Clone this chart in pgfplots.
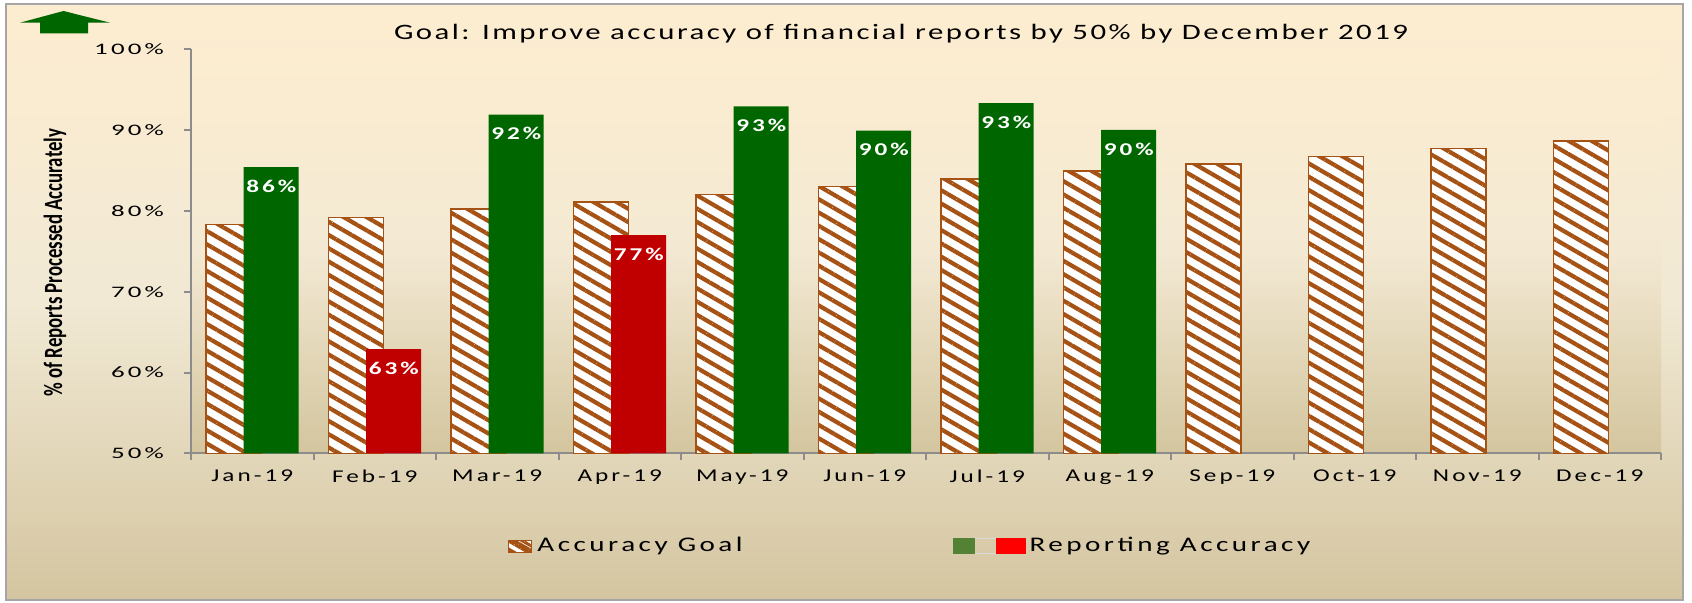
\documentclass[border=0pt]{standalone}
\usepackage{pgfplots}
\pgfplotsset{compat=1.18}
\usepackage{fontspec}
\setmainfont{Carlito}
\usetikzlibrary{patterns.meta}
\newfontfamily\cf[LetterSpace=12]{Carlito}
\newfontfamily\cft[LetterSpace=8]{Carlito}
\newcommand\W[1]{\scalebox{1.4}[1]{\cf #1}}
\newcommand\Ws[2]{\scalebox{#1}[1]{\cf #2}}
\definecolor{hatch}{RGB}{166,82,20}
\definecolor{bargreen}{RGB}{0,102,0}
\definecolor{barred}{RGB}{192,0,0}
\definecolor{leggreen}{RGB}{84,130,53}
\definecolor{legred}{RGB}{255,0,0}
\definecolor{axisgray}{RGB}{140,140,140}
\definecolor{bordergray}{RGB}{166,166,166}
\definecolor{bgtop}{RGB}{253,237,208}
\definecolor{bgmid}{RGB}{241,233,212}
\definecolor{bgbot}{RGB}{212,197,160}
\definecolor{pbtop}{RGB}{252,237,208}
\definecolor{pbmid}{RGB}{243,233,211}
\definecolor{pbbot}{RGB}{211,197,158}
\begin{document}
\begin{tikzpicture}
\path[use as bounding box] (0,0) rectangle (846pt,301.5pt);
\shade[top color=bgtop, bottom color=bgbot, middle color=bgmid] (3pt,1.5pt) rectangle (841.5pt,299.5pt);
\draw[bordergray, line width=1pt] (3pt,1.5pt) rectangle (841.5pt,299.5pt);
\fill[bargreen] (10pt,290.15pt) -- (31.75pt,296pt) -- (55pt,290.15pt) -- (44pt,290.15pt) -- (44pt,284.85pt) -- (20pt,284.85pt) -- (20pt,290.15pt) -- cycle;
\node[anchor=base, font=\fontsize{11}{13}\selectfont] at (450.5pt,281.5pt) {\scalebox{1.4}[1]{\cft Goal: Improve accuracy of financial reports by 50\% by December 2019}};
\begin{axis}[
  at={(95.5pt,74.75pt)}, anchor=south west,
  scale only axis, width=735pt, height=202.25pt,
  xmin=0, xmax=12, ymin=50, ymax=100,
  enlargelimits=false,
  axis x line*=bottom, axis y line*=left,
  axis line style={draw=axisgray, line width=1pt},
  tick style={draw=axisgray, line width=1pt},
  tick align=outside, major tick length=3.5pt,
  ytick={50,60,70,80,90,100},
  yticklabels={\Ws{1.68}{50\%},\Ws{1.68}{60\%},\Ws{1.68}{70\%},\Ws{1.68}{80\%},\Ws{1.68}{90\%},\Ws{1.68}{100\%}},
  yticklabel style={font=\fontsize{8}{9}\selectfont, xshift=-6.5pt},
  xtick={0,1,...,12},
  xticklabels={\W{Jan-19},\W{Feb-19},\W{Mar-19},\W{Apr-19},\W{May-19},\W{Jun-19},\W{Jul-19},\W{Aug-19},\W{Sep-19},\W{Oct-19},\W{Nov-19},\W{Dec-19}},
  x tick label as interval,
  xticklabel style={font=\fontsize{9}{10}\selectfont, yshift=-1pt},
  ylabel={\scalebox{1}[1.4]{\bfseries\% of Reports Processed Accurately}},
  ylabel style={at={(axis description cs:-0.0925,0.472)}, anchor=center, font=\fontsize{9.4}{11}\selectfont},
  axis background/.style={top color=pbtop, bottom color=pbbot, middle color=pbmid},
  ybar, bar width=27.5pt,
  legend columns=2,
  legend style={at={(axis description cs:0.215,-0.229)}, anchor=west, draw=none, fill=none,
    font=\fontsize{10.4}{12}\selectfont, inner sep=0pt,
    /tikz/every even column/.append style={column sep=103pt}},
]
\addplot[bar shift=0pt, fill=white, draw=hatch, line width=0.75pt,
  postaction={pattern={Lines[angle=-30,distance=5.75pt,line width=2.1pt]}, pattern color=hatch},
  legend image code/.code={\draw[hatch, line width=0.5pt, fill=white, postaction={pattern={Lines[angle=-30,distance=3.5pt,line width=1.5pt]}, pattern color=hatch}] (0pt,-3pt) rectangle (11.5pt,3pt);}]
  coordinates {(0.345,78.3) (1.345,79.2) (2.345,80.2) (3.345,81.1) (4.345,82.0) (5.345,83.0) (6.345,83.9) (7.345,84.9) (8.345,85.8) (9.345,86.7) (10.345,87.7) (11.345,88.6)};
\addlegendentry{\W{Accuracy Goal}}
\addplot[bar shift=0pt, fill=bargreen, draw=none,
  point meta=explicit symbolic, nodes near coords={\W{\bfseries\pgfplotspointmeta}},
  every node near coord/.append style={anchor=center, yshift=-9.5pt, text=white, font=\fontsize{9}{10}\selectfont},
  legend image code/.code={\fill[leggreen] (0pt,-4pt) rectangle (11pt,4pt); \draw[gray!30, line width=0.6pt] (11pt,3.7pt)--(21.5pt,3.7pt) (11pt,-3.7pt)--(21.5pt,-3.7pt); \fill[legred] (21.5pt,-4pt) rectangle (36.5pt,4pt);}]
  coordinates {(0.655,85.4) [86\%] (2.655,91.9) [92\%] (4.655,92.9) [93\%] (5.655,89.9) [90\%] (6.655,93.3) [93\%] (7.655,90.0) [90\%]};
\addlegendentry{\W{Reporting Accuracy}}
\addplot[bar shift=0pt, fill=barred, draw=none, forget plot,
  point meta=explicit symbolic, nodes near coords={\W{\bfseries\pgfplotspointmeta}},
  every node near coord/.append style={anchor=center, yshift=-9.5pt, text=white, font=\fontsize{9}{10}\selectfont}]
  coordinates {(1.655,62.9) [63\%] (3.655,77.0) [77\%]};
\end{axis}
\end{tikzpicture}
\end{document}
